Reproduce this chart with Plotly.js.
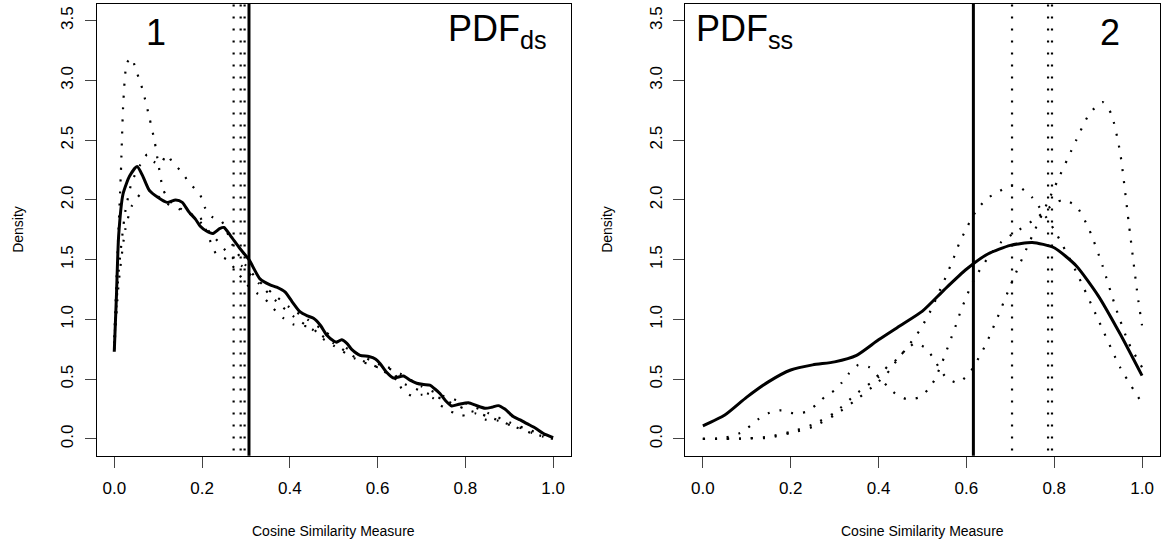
<!DOCTYPE html>
<html><head><meta charset="utf-8">
<script src="https://cdn.plot.ly/plotly-3.0.1.min.js"></script>
<style>html,body{margin:0;padding:0;background:#fff}#c{width:1161px;height:549px}</style>
</head><body><div id="c"></div>
<script>
// ---- Panel 1 (PDF_ds) ----
const l_solid_x = [0,0.005,0.01,0.02,0.035,0.052,0.065,0.08,0.1,0.12,0.14,0.155,0.17,0.185,0.196,0.21,0.225,0.24,0.25,0.265,0.285,0.307,0.332,0.355,0.37,0.389,0.405,0.423,0.44,0.454,0.47,0.484,0.5,0.507,0.518,0.53,0.541,0.56,0.58,0.595,0.606,0.62,0.636,0.659,0.675,0.689,0.705,0.719,0.73,0.742,0.755,0.769,0.785,0.807,0.825,0.845,0.86,0.875,0.89,0.909,0.925,0.939,0.96,0.977,1.0];
const l_solid_y = [0.73,1.2,1.7,2.05,2.2,2.28,2.2,2.08,2.02,1.98,2.0,1.98,1.9,1.84,1.78,1.74,1.72,1.76,1.77,1.7,1.6,1.5,1.34,1.29,1.27,1.23,1.15,1.065,1.03,1.01,0.95,0.87,0.82,0.81,0.83,0.8,0.75,0.7,0.69,0.67,0.63,0.56,0.51,0.527,0.49,0.466,0.455,0.45,0.42,0.38,0.32,0.276,0.29,0.304,0.28,0.257,0.265,0.279,0.25,0.187,0.16,0.131,0.09,0.048,0.011];

const l_dotA_x = [0,0.008,0.015,0.021,0.029,0.04,0.049,0.059,0.067,0.08,0.092,0.101,0.112,0.13,0.15,0.18,0.2,0.23,0.26,0.29,0.33,0.37,0.41,0.45,0.5,0.55,0.6,0.65,0.7,0.75,0.8,0.85,0.9,0.95,1.0];
const l_dotA_y = [0.85,1.6,2.22,2.84,3.15,3.19,3.09,2.99,2.89,2.69,2.49,2.29,2.08,1.98,1.93,1.87,1.8,1.68,1.55,1.45,1.3,1.15,1.02,0.92,0.8,0.68,0.6,0.48,0.4,0.33,0.25,0.19,0.12,0.05,0.0];

const l_dotB_x = [0,0.01,0.025,0.04,0.06,0.075,0.09,0.105,0.12,0.135,0.15,0.17,0.196,0.206,0.222,0.245,0.27,0.3,0.33,0.36,0.4,0.44,0.48,0.52,0.56,0.6,0.65,0.7,0.75,0.8,0.85,0.9,0.95,1.0];
const l_dotB_y = [0.8,1.4,1.9,2.15,2.3,2.38,2.32,2.3,2.38,2.3,2.25,2.15,2.04,1.94,1.86,1.82,1.62,1.45,1.32,1.22,1.1,1.0,0.9,0.78,0.7,0.63,0.55,0.44,0.36,0.3,0.22,0.14,0.07,0.01];

const l_dotC_x = [0,0.01,0.025,0.04,0.06,0.08,0.1,0.12,0.15,0.18,0.196,0.211,0.232,0.257,0.28,0.3,0.325,0.344,0.363,0.384,0.407,0.431,0.451,0.469,0.5,0.55,0.6,0.632,0.655,0.678,0.7,0.727,0.744,0.767,0.791,0.822,0.848,0.875,0.901,0.928,0.951,0.977,1.0];
const l_dotC_y = [0.75,1.3,1.75,1.95,2.05,2.08,2.03,1.97,1.92,1.87,1.85,1.73,1.55,1.5,1.4,1.3,1.22,1.17,1.09,1.015,0.96,0.946,0.935,0.856,0.78,0.67,0.6,0.59,0.42,0.36,0.37,0.34,0.28,0.23,0.195,0.215,0.16,0.153,0.117,0.09,0.053,0.02,0.0];

const l_dot_means = [0.272, 0.288, 0.297];
const l_solid_mean = 0.307;

// ---- Panel 2 (PDF_ss) ----
const r_solid_x = [0,0.05,0.1,0.15,0.2,0.25,0.3,0.35,0.4,0.45,0.5,0.55,0.6,0.65,0.7,0.75,0.8,0.85,0.9,0.95,1.0];
const r_solid_y = [0.11,0.2,0.35,0.48,0.577,0.62,0.645,0.7,0.83,0.95,1.07,1.25,1.42,1.55,1.62,1.645,1.6,1.45,1.2,0.88,0.53];

const r_dotA_x = [0,0.05,0.1,0.15,0.2,0.25,0.3,0.35,0.4,0.426,0.45,0.483,0.508,0.525,0.539,0.555,0.58,0.602,0.618,0.631,0.645,0.656,0.668,0.7,0.75,0.8,0.85,0.88,0.91,0.93,0.95,0.97,0.99,1.0];
const r_dotA_y = [0,0,0.005,0.01,0.05,0.1,0.2,0.33,0.48,0.577,0.7,0.8,0.76,0.675,0.59,0.51,0.47,0.53,0.61,0.7,0.795,0.89,0.99,1.28,1.7,2.1,2.5,2.72,2.82,2.72,2.4,1.8,1.2,0.95];

const r_dotB_x = [0,0.05,0.085,0.108,0.128,0.152,0.179,0.206,0.234,0.258,0.278,0.301,0.316,0.333,0.354,0.379,0.4,0.419,0.438,0.463,0.491,0.512,0.527,0.539,0.549,0.559,0.569,0.578,0.587,0.598,0.608,0.62,0.635,0.652,0.68,0.72,0.76,0.8,0.82,0.85,0.88,0.91,0.94,0.97,1.0];
const r_dotB_y = [0,0.01,0.05,0.11,0.17,0.22,0.24,0.215,0.226,0.285,0.354,0.41,0.47,0.55,0.62,0.6,0.52,0.446,0.38,0.335,0.346,0.41,0.49,0.59,0.68,0.78,0.88,0.97,1.07,1.17,1.26,1.35,1.44,1.53,1.65,1.75,1.85,1.97,2.0,1.95,1.75,1.45,1.1,0.8,0.6];

const r_dotC_x = [0,0.1,0.15,0.2,0.25,0.3,0.35,0.4,0.42,0.442,0.461,0.478,0.494,0.508,0.521,0.533,0.544,0.555,0.566,0.577,0.586,0.599,0.612,0.627,0.646,0.669,0.7,0.72,0.75,0.8,0.85,0.9,0.95,1.0];
const r_dotC_y = [0,0.005,0.02,0.06,0.12,0.22,0.38,0.52,0.605,0.667,0.745,0.83,0.91,1.0,1.09,1.19,1.28,1.37,1.47,1.57,1.66,1.75,1.85,1.93,2.01,2.06,2.12,2.11,2.02,1.75,1.4,1.0,0.6,0.3];

const r_dot_means = [0.704, 0.786, 0.795];
const r_solid_mean = 0.616;

const xTicks = [0, 0.2, 0.4, 0.6, 0.8, 1.0];
const yTicks = [0, 0.5, 1.0, 1.5, 2.0, 2.5, 3.0, 3.5];

// ---- build ----
const DOT = {color:'#000', width:2.2, dash:'2px,10px'};
const SOLID = {color:'#000', width:3};
function tr(x, y, line, ax) {
  return {x:x, y:y, type:'scatter', mode:'lines', line:Object.assign({shape:'spline', smoothing:0.6}, line),
          xaxis:ax[0], yaxis:ax[1], hoverinfo:'skip', showlegend:false};
}
function vtr(v, line, ax) {
  return {x:[v, v], y:[-1, 5], type:'scatter', mode:'lines', line:line,
          xaxis:ax[0], yaxis:ax[1], hoverinfo:'skip', showlegend:false};
}
const A1 = ['x','y'], A2 = ['x2','y2'];
const data = [
  tr(l_dotA_x, l_dotA_y, DOT, A1), tr(l_dotB_x, l_dotB_y, DOT, A1), tr(l_dotC_x, l_dotC_y, DOT, A1),
  tr(l_solid_x, l_solid_y, SOLID, A1),
  ...l_dot_means.map(v => vtr(v, DOT, A1)), vtr(l_solid_mean, SOLID, A1),
  tr(r_dotA_x, r_dotA_y, DOT, A2), tr(r_dotB_x, r_dotB_y, DOT, A2), tr(r_dotC_x, r_dotC_y, DOT, A2),
  tr(r_solid_x, r_solid_y, SOLID, A2),
  ...r_dot_means.map(v => vtr(v, DOT, A2)), vtr(r_solid_mean, SOLID, A2)
];

const W = 1161, H = 549;
const tickFont = {family:'Liberation Sans, Arial, sans-serif', size:17, color:'#000'};
function xax(dom, anchor) {
  return {domain:dom, anchor:anchor, range:[-0.04,1.04], tickvals:xTicks, tickformat:'.1f',
    ticks:'outside', ticklen:11, tickwidth:1, tickcolor:'#444', showline:true, linecolor:'#000', linewidth:1,
    mirror:true, showgrid:false, zeroline:false, tickfont:tickFont, ticklabelstandoff:6, fixedrange:true};
}
function yax(anchor) {
  return {domain:[1-455.7/H, 1-4/H], anchor:anchor, range:[-0.14,3.64], tickvals:yTicks, tickformat:'.1f',
    ticks:'outside', ticklen:11, tickwidth:1, tickcolor:'#444', showline:true, linecolor:'#000', linewidth:1,
    mirror:true, showgrid:false, zeroline:false, tickfont:tickFont, tickangle:-90, ticklabelstandoff:5, fixedrange:true};
}
const bigFont = {family:'Liberation Sans, Arial, sans-serif', size:36, color:'#000'};
const labFont = {family:'Liberation Sans, Arial, sans-serif', size:14, color:'#000'};
const layout = {
  width:W, height:H, margin:{l:0,r:0,t:0,b:0}, paper_bgcolor:'#fff', plot_bgcolor:'#fff',
  showlegend:false,
  xaxis: xax([96.7/W, 570.7/W], 'y'),
  yaxis: yax('x'),
  xaxis2: xax([685.3/W, 1159.6/W], 'y2'),
  yaxis2: yax('x2'),
  annotations:[
    {text:'1', xref:'paper', yref:'paper', x:156/W, y:1-33/H, xanchor:'center', yanchor:'middle', showarrow:false, font:bigFont},
    {text:'PDF<sub>ds</sub>', xref:'paper', yref:'paper', x:549/W, y:1-6/H, xanchor:'right', yanchor:'top', showarrow:false, font:bigFont},
    {text:'PDF<sub>ss</sub>', xref:'paper', yref:'paper', x:694/W, y:1-6/H, xanchor:'left', yanchor:'top', showarrow:false, font:bigFont},
    {text:'2', xref:'paper', yref:'paper', x:1110/W, y:1-33/H, xanchor:'center', yanchor:'middle', showarrow:false, font:bigFont},
    {text:'Density', xref:'paper', yref:'paper', x:18/W, y:1-229.85/H, textangle:-90, xanchor:'center', yanchor:'middle', showarrow:false, font:labFont},
    {text:'Density', xref:'paper', yref:'paper', x:607/W, y:1-229.85/H, textangle:-90, xanchor:'center', yanchor:'middle', showarrow:false, font:labFont},
    {text:'Cosine Similarity Measure', xref:'paper', yref:'paper', x:333.7/W, y:1-531/H, xanchor:'center', yanchor:'middle', showarrow:false, font:labFont},
    {text:'Cosine Similarity Measure', xref:'paper', yref:'paper', x:922.4/W, y:1-531/H, xanchor:'center', yanchor:'middle', showarrow:false, font:labFont}
  ]
};
Plotly.newPlot('c', data, layout, {staticPlot:true, displayModeBar:false});
</script></body></html>
